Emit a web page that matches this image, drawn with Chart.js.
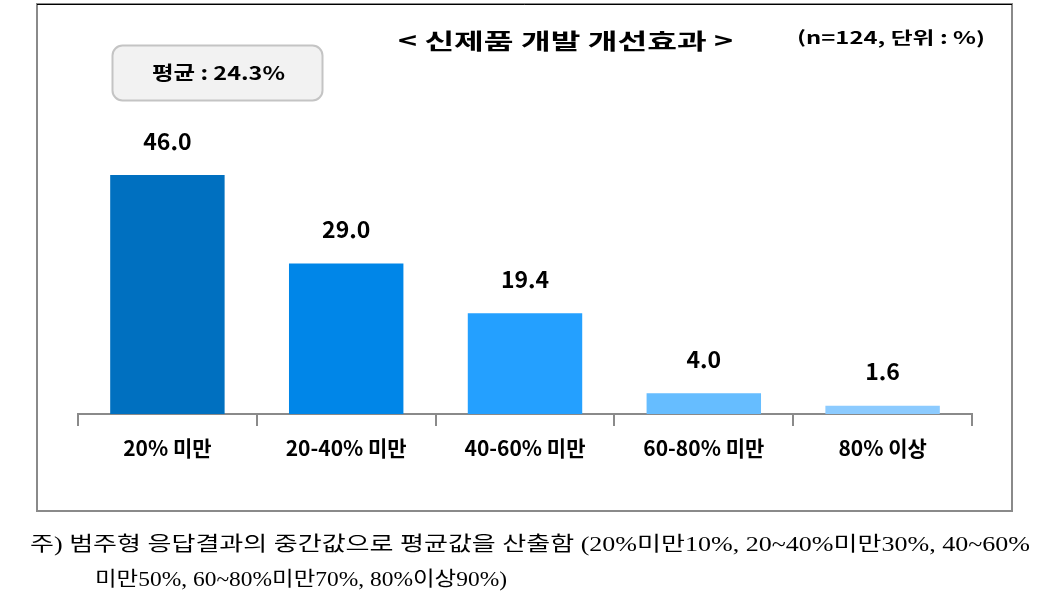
<!DOCTYPE html>
<html lang="ko">
<head>
    <meta charset="UTF-8">
    <title>신제품 개발 개선효과</title>
    <script src="https://cdn.jsdelivr.net/npm/chart.js"></script>
    <style>
        html, body { margin: 0; padding: 0; background: #ffffff; }
        #wrap { position: relative; width: 1063px; height: 610px; }
    </style>
</head>
<body>
    <div id="wrap"><canvas id="chart" width="1063" height="610"></canvas></div>
    <script>
        // chart data
        const categories = ['20% 미만', '20-40% 미만', '40-60% 미만', '60-80% 미만', '80% 이상'];
        const values = [46.0, 29.0, 19.4, 4.0, 1.6];
        const barColors = ['#0070C0', '#0086E8', '#24A0FF', '#66BDFF', '#8CCBFF'];
        const titleText = '< 신제품 개발 개선효과 >';
        const unitText = '(n=124, 단위 : %)';
        const avgText = '평균 : 24.3%';
        const noteLines = [
            '주) 범주형 응답결과의 중간값으로 평균값을 산출함 (20%미만10%, 20~40%미만30%, 40~60%',
            '미만50%, 60~80%미만70%, 80%이상90%)'
        ];

        const sansBold = 'bold {s}px "Noto Sans CJK KR", "Noto Sans", sans-serif';
        function font(s) { return sansBold.replace('{s}', s); }

        // draw text squeezed/stretched to a given width
        function fitText(ctx, text, x, y, w) {
            const m = ctx.measureText(text).width;
            ctx.save();
            ctx.translate(x, y);
            ctx.scale(w / m, 1);
            ctx.fillText(text, 0, 0);
            ctx.restore();
        }

        const decorations = {
            id: 'decorations',
            beforeDraw(chart) {
                const ctx = chart.ctx;
                ctx.save();
                // outer frame
                ctx.strokeStyle = '#8a8a8a';
                ctx.lineWidth = 2;
                ctx.strokeRect(37, 4, 975, 507);
                ctx.strokeStyle = '#000000';
                ctx.lineWidth = 1;
                ctx.beginPath();
                ctx.moveTo(37, 4.5);
                ctx.lineTo(1012, 4.5);
                ctx.stroke();
                ctx.restore();
            },
            afterDraw(chart) {
                const ctx = chart.ctx;
                ctx.save();
                ctx.fillStyle = '#000000';
                ctx.textBaseline = 'middle';
                ctx.textAlign = 'left';

                ctx.font = font(22);
                fitText(ctx, titleText, 398, 41, 335);
                ctx.font = font(17);
                fitText(ctx, unitText, 797, 38, 188);

                // average box
                ctx.beginPath();
                ctx.roundRect(112.5, 45.5, 210, 55, 10);
                ctx.fillStyle = '#f2f2f2';
                ctx.fill();
                ctx.strokeStyle = '#c4c4c4';
                ctx.lineWidth = 2;
                ctx.stroke();
                ctx.fillStyle = '#000000';
                ctx.font = font(19);
                fitText(ctx, avgText, 152, 73, 133);

                // value labels above bars
                const meta = chart.getDatasetMeta(0);
                ctx.textAlign = 'center';
                ctx.font = font(23);
                meta.data.forEach((bar, i) => {
                    ctx.fillText(values[i].toFixed(1), bar.x, bar.y - 34);
                });

                // footnote
                ctx.textAlign = 'left';
                ctx.font = '20px "Liberation Serif", "Noto Sans CJK KR", serif';
                fitText(ctx, noteLines[0], 30, 546, 1000);
                fitText(ctx, noteLines[1], 95, 581, 412);
                ctx.restore();
            }
        };

        new Chart(document.getElementById('chart'), {
            type: 'bar',
            data: {
                labels: categories,
                datasets: [{
                    data: values,
                    backgroundColor: barColors,
                    borderWidth: 0,
                    categoryPercentage: 0.8,
                    barPercentage: 0.8
                }]
            },
            options: {
                responsive: false,
                animation: false,
                layout: { padding: { left: 78, right: 91, top: 105, bottom: 0 } },
                plugins: {
                    legend: { display: false },
                    tooltip: { enabled: false }
                },
                scales: {
                    x: {
                        afterFit(scale) { scale.height = 196; },
                        grid: {
                            drawOnChartArea: false,
                            drawTicks: true,
                            tickLength: 12,
                            color: '#8a8a8a',
                            lineWidth: 2
                        },
                        border: { color: '#8a8a8a', width: 2 },
                        ticks: {
                            color: '#000000',
                            padding: 9,
                            font: { family: '"Noto Sans CJK KR", sans-serif', size: 21, weight: 'bold' }
                        }
                    },
                    y: {
                        display: false,
                        min: 0,
                        max: 59.5
                    }
                }
            },
            plugins: [decorations]
        });
    </script>
</body>
</html>
